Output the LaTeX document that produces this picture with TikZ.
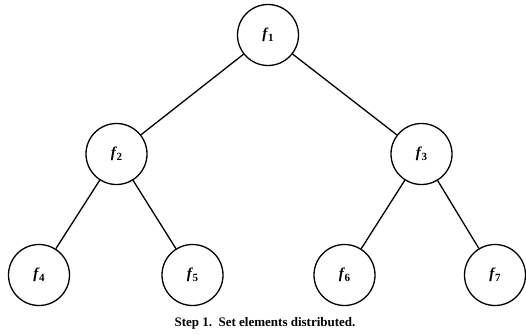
\documentclass[tikz,border=0pt]{standalone}
\usepackage{fontspec}
\setmainfont{Liberation Serif}
\newcommand{\fsub}[1]{{\bfseries\itshape f}\kern0.8pt\raisebox{-0.35ex}{\bfseries\fontsize{11}{11}\selectfont #1}}
\begin{document}
\begin{tikzpicture}[x=1pt,y=-1pt,
  elem/.style={circle,draw,line width=1.3pt,minimum size=61pt,inner sep=0pt,
    font=\fontsize{15}{15}\selectfont},
  link/.style={line width=1.3pt}]
\useasboundingbox (0,0) rectangle (526,334);
\node[elem] (f1) at (268,35) {\fsub{1}};
\node[elem] (f2) at (116.5,154) {\fsub{2}};
\node[elem] (f3) at (421.5,154) {\fsub{3}};
\node[elem] (f4) at (39,275) {\fsub{4}};
\node[elem] (f5) at (192.5,275) {\fsub{5}};
\node[elem] (f6) at (344.5,275) {\fsub{6}};
\node[elem] (f7) at (495,275) {\fsub{7}};
\draw[link] (f1) -- (f2);
\draw[link] (f1) -- (f3);
\draw[link] (f2) -- (f4);
\draw[link] (f2) -- (f5);
\draw[link] (f3) -- (f6);
\draw[link] (f3) -- (f7);
\node[font=\bfseries\fontsize{13}{13}\selectfont,anchor=base] (cap) at (265,326)
  {Step 1.\ \ Set elements distributed.};
\end{tikzpicture}
\end{document}
